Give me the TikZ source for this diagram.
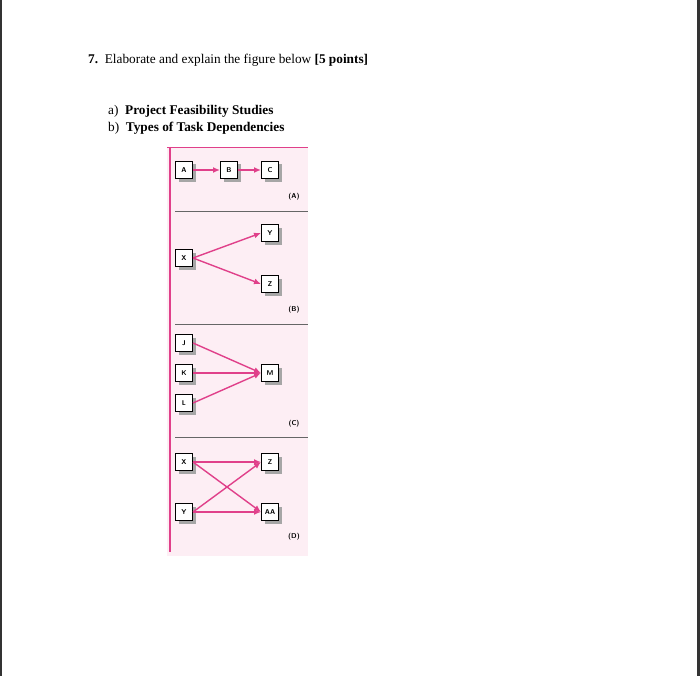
\documentclass[tikz,border=0pt]{standalone}
\usepackage{fontspec}
\setmainfont{Liberation Serif}
\usetikzlibrary{arrows.meta}
\definecolor{pk}{HTML}{E0408A}
\definecolor{pkbg}{HTML}{FDEEF4}
\begin{document}
\begin{tikzpicture}[x=1pt,y=-1pt,
  tbox/.style={draw=black,line width=1pt,fill=white,minimum size=17pt,inner sep=0pt,font=\sffamily\bfseries\fontsize{7}{8}\selectfont},
  arr/.style={draw=pk,line width=1.4pt,-{Latex[length=7pt,width=6pt]}},
  plab/.style={font=\sffamily\bfseries\fontsize{7}{8}\selectfont},
  txt/.style={anchor=west,font=\fontsize{13.3}{16}\selectfont,inner sep=0pt}]
\useasboundingbox (0,0) rectangle (700,676);
\fill[white] (0,0) rectangle (700,676);
\fill[black!80] (0,0) rectangle (2,676);
\fill[black!80] (697,0) rectangle (700,676);
\node[txt] (q) at (88,60) {\textbf{7.}\enspace Elaborate and explain the figure below \textbf{[5 points]}};
\node[txt] (qa) at (108,111) {a)\enspace \textbf{Project Feasibility Studies}};
\node[txt] (qb) at (108,128) {b)\enspace \textbf{Types of Task Dependencies}};
\fill[pkbg] (167,147) rectangle (308,556);
\draw[pk,line width=0.8pt] (167,147) -- (308,147);
\draw[pk,line width=1.4pt] (170,147) -- (170,552);
\foreach \yy in {211,324,437} \draw[black!60,line width=0.8pt] (175,\yy) -- (308,\yy);
\foreach \n/\t/\x/\y in {a/A/184/170,b/B/229/170,c/C/270/170,x1/X/184/258,y1/Y/270/233,z1/Z/270/284,
  j/J/184/343,k/K/184/373,l/L/184/403,m/M/270/373,x2/X/184/462,z2/Z/270/462,y2/Y/184/512,aa/AA/270/512}{
  \fill[black!35] (\x-5.5,\y-5.5) rectangle (\x+12,\y+12);
  \node[tbox] (\n) at (\x,\y) {\t};
}
\node[plab] (la) at (294,197) {(A)};
\node[plab] (lb) at (294,310) {(B)};
\node[plab] (lc) at (294,424) {(C)};
\node[plab] (ld) at (294,537) {(D)};
\draw[arr] (a) -- (b);
\draw[arr] (b) -- (c);
\draw[arr] (x1.east) -- (y1.west);
\draw[arr] (x1.east) -- (z1.west);
\draw[arr] (j.east) -- (m.west);
\draw[arr] (k.east) -- (m.west);
\draw[arr] (l.east) -- (m.west);
\draw[arr] (x2) -- (z2);
\draw[arr] (y2) -- (aa);
\draw[arr] (x2.east) -- (aa.west);
\draw[arr] (y2.east) -- (z2.west);
\end{tikzpicture}
\end{document}
